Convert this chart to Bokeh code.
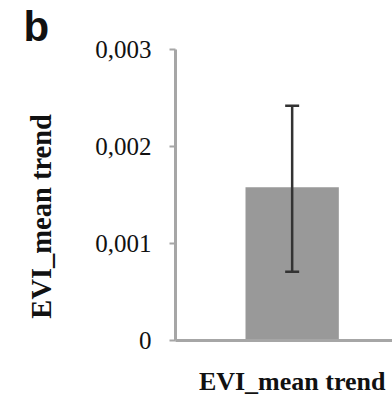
from bokeh.plotting import figure
from bokeh.models import (Range1d, FixedTicker, CustomJSTickFormatter, Whisker,
                          ColumnDataSource, Title)
from bokeh.embed import file_html
from bokeh.resources import INLINE

# ---- data ----
categories = ["EVI_mean trend"]
values = [0.00158]
err_low = [0.00071]
err_high = [0.00242]
y_ticks = [0, 0.001, 0.002, 0.003]
panel_letter = "b"
y_label = "EVI_mean trend"

xs = list(range(len(categories)))
src = ColumnDataSource(dict(x=xs, top=values, lower=err_low, upper=err_high))

p = figure(width=392, height=398, output_backend="svg", toolbar_location=None,
           x_range=Range1d(-1.0, 0.86), y_range=Range1d(0, 0.003),
           min_border_left=175, min_border_right=0, min_border_top=49,
           min_border_bottom=57, background_fill_color="white",
           border_fill_color="white")
p.outline_line_color = None
p.grid.visible = False

p.vbar(x="x", top="top", width=0.8, source=src, fill_color="#999999", line_color=None)

w = Whisker(base="x", lower="lower", upper="upper", source=src,
            line_color="#333333", line_width=2.5, level="overlay")
for head in (w.upper_head, w.lower_head):
    head.size = 14
    head.line_color = "#333333"
    head.line_width = 2.5
p.add_layout(w)

axis_color = "#a6a6a6"
ya = p.yaxis[0]
ya.ticker = FixedTicker(ticks=y_ticks)
ya.formatter = CustomJSTickFormatter(code="return tick == 0 ? '0' : tick.toFixed(3).replace('.', ',');")
ya.axis_line_color = axis_color
ya.axis_line_width = 3
ya.major_tick_line_color = axis_color
ya.major_tick_line_width = 2
ya.major_tick_out = 6
ya.major_tick_in = 0
ya.minor_tick_line_color = None
ya.major_label_text_font = "Liberation Serif"
ya.major_label_text_font_size = "25px"
ya.major_label_text_color = "#111111"
ya.major_label_standoff = 18
# trailing no-break spaces shift the (rotated) title slightly downwards, as in the original
ya.axis_label = y_label + "\u00a0" * 6
ya.axis_label_text_font = "Liberation Serif"
ya.axis_label_text_font_size = "28.5px"
ya.axis_label_text_font_style = "bold"
ya.axis_label_text_color = "#111111"
ya.axis_label_standoff = 35

xa = p.xaxis[0]
xa.ticker = FixedTicker(ticks=xs)
xa.formatter = CustomJSTickFormatter(args=dict(labels=categories),
                                     code="const i = Math.round(tick); return (i >= 0 && i < labels.length) ? labels[i] : '';")
xa.axis_line_color = axis_color
xa.axis_line_width = 3
xa.major_tick_line_color = None
xa.minor_tick_line_color = None
xa.major_label_text_font = "Liberation Serif"
xa.major_label_text_font_size = "26px"
xa.major_label_text_font_style = "bold"
xa.major_label_text_color = "#111111"
xa.major_label_standoff = 20

# panel letter
p.add_layout(Title(text=panel_letter, align="left", offset=-152, standoff=0,
                   text_font="Liberation Sans", text_font_size="42px",
                   text_font_style="bold", text_color="#111111"), "above")

open("out.html", "w").write(file_html(p, INLINE))
